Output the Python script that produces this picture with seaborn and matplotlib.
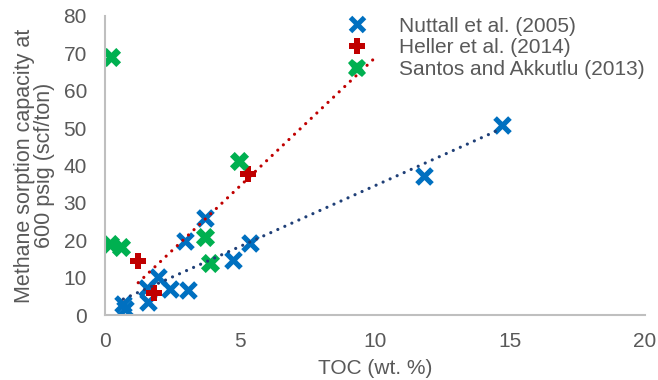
import numpy as np
import pandas as pd
import matplotlib
matplotlib.use("Agg")
import matplotlib.pyplot as plt
import seaborn as sns
from matplotlib.lines import Line2D

# TOC (wt. %) and methane sorption capacity at 600 psig (scf/ton)
nuttall_toc = [0.68, 0.75, 1.55, 1.60, 1.98, 2.42, 3.08, 2.96, 3.70, 4.75, 5.37, 11.8, 14.7]
nuttall_cap = [3.0, 1.5, 7.2, 3.5, 10.3, 6.9, 6.6, 19.7, 26.0, 14.8, 19.2, 37.3, 50.8]

heller_toc = [1.23, 1.81, 5.31]
heller_cap = [14.5, 5.8, 37.6]

santos_toc = [0.21, 0.20, 0.60, 3.70, 3.90, 4.97]
santos_cap = [69.0, 19.1, 18.3, 21.0, 13.8, 41.2]

series_names = ["Nuttall et al. (2005)", "Heller et al. (2014)", "Santos and Akkutlu (2013)"]

x_ticks = [0, 5, 10, 15, 20]
y_ticks = [0, 10, 20, 30, 40, 50, 60, 70, 80]

df = pd.DataFrame({
    "toc": nuttall_toc + heller_toc + santos_toc,
    "cap": nuttall_cap + heller_cap + santos_cap,
    "source": [series_names[0]] * len(nuttall_toc)
    + [series_names[1]] * len(heller_toc)
    + [series_names[2]] * len(santos_toc),
})

sns.set_theme(style="white")
plt.rcParams["font.family"] = ["Liberation Sans", "DejaVu Sans"]
text_col = "#595959"
spine_col = "#BFBFBF"
fs = 15

blue, red, green = "#0070C0", "#C00000", "#00B050"
navy = "#1F3F77"

fig = plt.figure(figsize=(6.58, 3.80), dpi=100)
ax = fig.add_axes([0.1596, 0.171, 0.8204, 0.787])


def trend(xs, ys, x0, x1, color):
    """Least-squares linear trendline drawn as a round-dotted line."""
    k, b = np.polyfit(xs, ys, 1)
    xx = np.array([x0, x1])
    ax.plot(xx, k * xx + b, color=color, lw=2.3, linestyle=(0, (0.01, 2.4)),
            dash_capstyle="round", zorder=3)


# Nuttall trend over its data range, Heller trend projected forward
trend(nuttall_toc, nuttall_cap, min(nuttall_toc), max(nuttall_toc), navy)
trend(heller_toc, heller_cap, min(heller_toc), 10.1, red)

d = df[df.source == series_names[0]]
sns.scatterplot(data=d, x="toc", y="cap", ax=ax, marker="x", color=blue,
                s=115, linewidth=3.7, zorder=2, legend=False)
d = df[df.source == series_names[1]]
sns.scatterplot(data=d, x="toc", y="cap", ax=ax, marker="P", color=red,
                s=120, linewidth=0, zorder=2, legend=False)
d = df[df.source == series_names[2]]
sns.scatterplot(data=d, x="toc", y="cap", ax=ax, marker="X", color=green,
                s=190, linewidth=0, zorder=2, legend=False)

ax.set_xlim(0, 20)
ax.set_ylim(0, 80)
ax.set_xticks(x_ticks)
ax.set_yticks(y_ticks)
ax.tick_params(axis="both", length=0, labelsize=fs, colors=text_col)
ax.tick_params(axis="y", pad=13)
ax.tick_params(axis="x", pad=12)
for s in ["top", "right"]:
    ax.spines[s].set_visible(False)
for s in ["left", "bottom"]:
    ax.spines[s].set_color(spine_col)
    ax.spines[s].set_linewidth(1.5)

ax.set_xlabel("TOC (wt. %)", fontsize=fs, color=text_col, labelpad=6)
ax.set_ylabel("Methane sorption capacity at\n600 psig (scf/ton)", fontsize=15.5,
              color=text_col, labelpad=6, linespacing=0.95)

handles = [
    Line2D([], [], ls="none", marker="x", color=blue, markersize=10, mew=3.6),
    Line2D([], [], ls="none", marker="P", color=red, markersize=11, mew=0),
    Line2D([], [], ls="none", marker="X", color=green, markersize=13, mew=0),
]
ax.legend(handles, series_names, loc="upper right", frameon=False,
          fontsize=fs, labelcolor=text_col, borderaxespad=0, borderpad=0,
          bbox_to_anchor=(1.0, 0.998), handlelength=2.0,
          handletextpad=1.05, labelspacing=0.13)

fig.savefig("out.png", dpi=100)
